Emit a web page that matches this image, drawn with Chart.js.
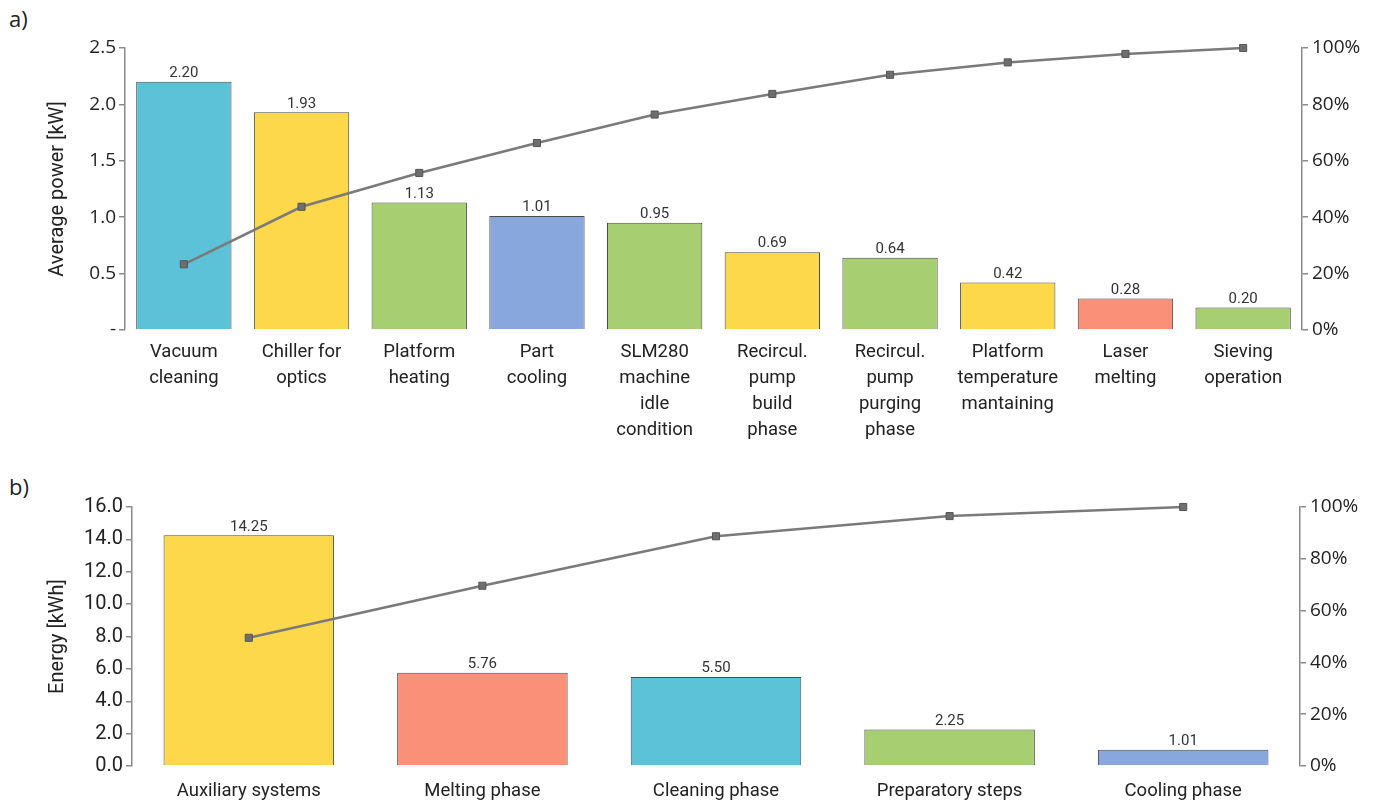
<!DOCTYPE html>
<html><head><meta charset="utf-8">
<script src="https://cdn.jsdelivr.net/npm/chart.js@4.4.1/dist/chart.umd.min.js"></script>
<style>
html,body{margin:0;padding:0;background:#fff;width:1381px;height:803px;overflow:hidden;}
.lbl{position:absolute;font-family:'Open Sans',sans-serif;font-size:22px;color:#222;}
canvas{position:absolute;left:0;}
</style></head><body>
<div class="lbl" style="left:9px;top:3px;">a)</div>
<div class="lbl" style="left:9px;top:471px;">b)</div>
<canvas id="ca" width="1381" height="465" style="top:0px"></canvas>
<canvas id="cb" width="1381" height="338" style="top:465px"></canvas>
<script>
// ---- Data: chart a) ----
const catsA = [['Vacuum','cleaning'],['Chiller for','optics'],['Platform','heating'],['Part','cooling'],['SLM280','machine','idle','condition'],['Recircul.','pump','build','phase'],['Recircul.','pump','purging','phase'],['Platform','temperature','mantaining'],['Laser','melting'],['Sieving','operation']];
const powerA = [2.20,1.93,1.13,1.01,0.95,0.69,0.64,0.42,0.28,0.20];
const cumPctA = [23.3,43.7,55.7,66.3,76.4,83.7,90.5,94.9,97.9,100];
const colorsA = ['#5bc2d8','#fdd84b','#a7ce71','#88a7dc','#a7ce71','#fdd84b','#a7ce71','#fdd84b','#fb9079','#a7ce71'];
const ticksLeftA = [0,0.5,1.0,1.5,2.0,2.5];

// ---- Data: chart b) ----
const catsB = ['Auxiliary systems','Melting phase','Cleaning phase','Preparatory steps','Cooling phase'];
const energyB = [14.25,5.76,5.50,2.25,1.01];
const cumPctB = [49.5,69.6,88.7,96.5,100];
const colorsB = ['#fdd84b','#fb9079','#5bc2d8','#a7ce71','#88a7dc'];
const ticksLeftB = [0,2,4,6,8,10,12,14,16];
const ticksPct = [0,20,40,60,80,100];

const AX = '#8a8a8a';
const valueLabels = {
  id:'valueLabels',
  afterDatasetsDraw(chart, args, opts){
    const ctx = chart.ctx;
    chart.data.datasets.forEach((ds,i)=>{
      if(ds.type!=='bar') return;
      const meta = chart.getDatasetMeta(i);
      meta.data.forEach((el,j)=>{
        ctx.save();
        ctx.font = opts.font;
        ctx.fillStyle = '#333';
        ctx.textAlign='center';
        ctx.textBaseline='bottom';
        ctx.fillText(ds.data[j].toFixed(2), el.x, el.y-1);
        ctx.restore();
      });
    });
  }
};

function makeChart(id, cats, vals, cum, colors, leftTicks, yMax, leftFmt, title, geom, barPct, leftFont){
  new Chart(document.getElementById(id), {
    data:{
      labels: cats,
      datasets:[
        {type:'line', data:cum, yAxisID:'y2', order:0, borderColor:'#7a7a7a', borderWidth:2.5, clip:false,
         pointStyle:'rect', pointRadius:5, pointBackgroundColor:'#6e6e6e', pointBorderColor:'#555', pointBorderWidth:1, tension:0},
        {type:'bar', data:vals, yAxisID:'y', order:1, backgroundColor:colors, borderColor:'#4a4a4a', borderWidth:1,
         barPercentage:barPct, categoryPercentage:1}
      ]
    },
    options:{
      responsive:false, animation:false, devicePixelRatio:1,
      layout:{padding:{top:geom.top,left:geom.pl,right:0,bottom:0}},
      plugins:{legend:{display:false}, tooltip:{enabled:false}, valueLabels:{font:geom.valFont}},
      scales:{
        x:{grid:{display:false}, border:{display:false},
           ticks:{font:{family:'Roboto',size:geom.catSize,lineHeight:1.41}, color:'#222', padding:geom.catPad, maxRotation:0, autoSkip:false},
           afterFit(s){s.height=geom.xh;}},
        y:{position:'left', min:0, max:yMax,
           afterBuildTicks(s){s.ticks = leftTicks.map(v=>({value:v}));},
           grid:{drawOnChartArea:false, drawTicks:true, tickLength:6, color:AX, lineWidth:1.5},
           border:{color:AX, width:1.5},
           ticks:{font:leftFont, color:'#222', padding:3, callback:leftFmt},
           title:{display:true, text:title, font:{family:'Roboto',size:20}, color:'#222', padding:{top:0,bottom:0}},
           afterFit(s){s.width=geom.lw;}},
        y2:{position:'right', min:0, max:100,
           afterBuildTicks(s){s.ticks = ticksPct.map(v=>({value:v}));},
           grid:{drawOnChartArea:false, drawTicks:true, tickLength:6, color:AX, lineWidth:1.5},
           border:{color:AX, width:1.5},
           ticks:{font:{family:'Open Sans',size:19}, color:'#222', padding:4, callback:v=>v+'%'},
           afterFit(s){s.width=geom.rw;}}
      }
    },
    plugins:[valueLabels]
  });
}

makeChart('ca', catsA, powerA, cumPctA, colorsA, ticksLeftA, 2.5,
  v=> v===0 ? '-' : v.toFixed(1), 'Average power [kW]',
  {top:48, pl:46, xh:135, lw:79, rw:79, catSize:18.5, catPad:1, valFont:'15px "Liberation Sans Narrow", Roboto'}, 0.81,
  {family:'Open Sans',size:19});

makeChart('cb', catsB, energyB, cumPctB, colorsB, ticksLeftB, 16,
  v=> v.toFixed(1), 'Energy [kWh]',
  {top:42, pl:46, xh:37, lw:86, rw:81, catSize:18.5, catPad:4, valFont:'15px "Liberation Sans Narrow", Roboto'}, 0.73,
  {family:'Roboto',size:20});
</script>
</body></html>
